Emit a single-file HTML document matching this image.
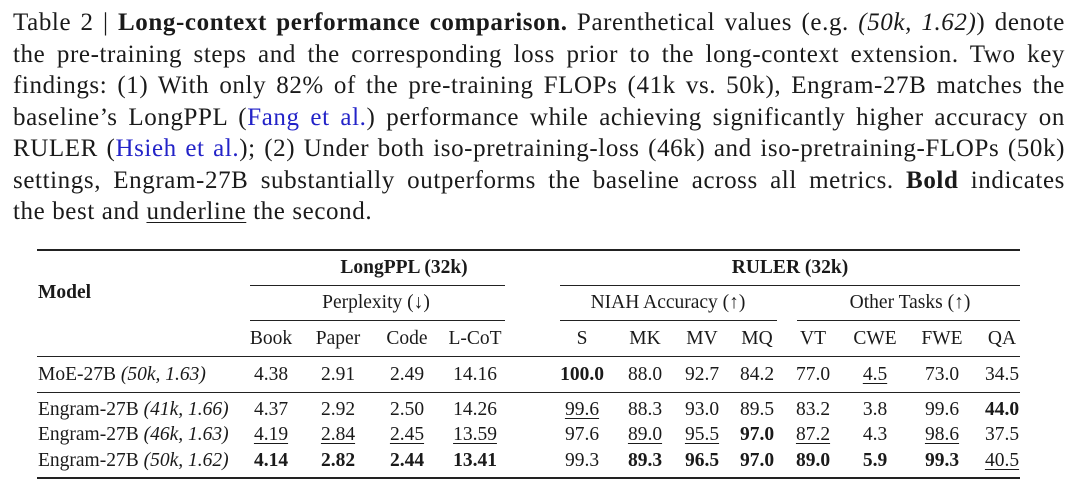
<!DOCTYPE html>
<html><head><meta charset="utf-8">
<style>
body{margin:0;background:#fff;width:1080px;height:494px;overflow:hidden;position:relative;font-family:"Liberation Serif",serif;color:#1a1a1a}
.cap{position:absolute;left:13px;width:1052px;font-size:25px;letter-spacing:0.6px}
.ln{height:31.5px;line-height:31.5px;text-align:justify;text-align-last:justify;white-space:nowrap}
.ln.last{text-align-last:left}
.lnk{color:#2323c8}
.rule{position:absolute;background:#222}
.t{position:absolute;font-size:19.5px;white-space:nowrap;line-height:22px}
.c{transform:translateX(-50%)}
.b{font-weight:bold}
.u{text-decoration:underline;text-underline-offset:3px;text-decoration-thickness:1px}
i{font-style:italic}
</style></head><body>
<div class="cap" style="top:7px">
<div class="ln">Table 2 | <b>Long-context performance comparison.</b> Parenthetical values (e.g. <i>(50k, 1.62)</i>) denote</div>
<div class="ln">the pre-training steps and the corresponding loss prior to the long-context extension. Two key</div>
<div class="ln">findings: (1) With only 82% of the pre-training FLOPs (41k vs. 50k), Engram-27B matches the</div>
<div class="ln">baseline’s LongPPL (<span class="lnk">Fang et al.</span>) performance while achieving significantly higher accuracy on</div>
<div class="ln">RULER (<span class="lnk">Hsieh et al.</span>); (2) Under both iso-pretraining-loss (46k) and iso-pretraining-FLOPs (50k)</div>
<div class="ln">settings, Engram-27B substantially outperforms the baseline across all metrics. <b>Bold</b> indicates</div>
<div class="ln last">the best and <span class="u">underline</span> the second.</div>
</div>
<div id="tbl"></div>
<script>
const cols=["Book","Paper","Code","L-CoT","S","MK","MV","MQ","VT","CWE","FWE","QA"];
const colX=[271,338,407,475,582,645,702,757,813,875,942,1002];
const models=["MoE-27B","Engram-27B","Engram-27B","Engram-27B"];
const cfgs=["(50k, 1.63)","(41k, 1.66)","(46k, 1.63)","(50k, 1.62)"];
const row0=["4.38","2.91","2.49","14.16","100.0","88.0","92.7","84.2","77.0","4.5","73.0","34.5"];
const row1=["4.37","2.92","2.50","14.26","99.6","88.3","93.0","89.5","83.2","3.8","99.6","44.0"];
const row2=["4.19","2.84","2.45","13.59","97.6","89.0","95.5","97.0","87.2","4.3","98.6","37.5"];
const row3=["4.14","2.82","2.44","13.41","99.3","89.3","96.5","97.0","89.0","5.9","99.3","40.5"];
const styles0="nnnnbnnnnunn", styles1="nnnnunnnnnnb", styles2="uuuunuubunun", styles3="bbbbnbbbbbbu";
const rows=[row0,row1,row2,row3], sty=[styles0,styles1,styles2,styles3];
const rowY=[364,399,424,450];
const T=document.getElementById('tbl');
function rule(x,y,w,h,name){const d=document.createElement('div');d.className='rule';
d.style.cssText=`left:${x}px;top:${y}px;width:${w}px;height:${h}px`;


T.appendChild(d);}
function txt(s,x,y,cls,name){const d=document.createElement('div');d.className='t '+cls;
d.style.left=x+'px';d.style.top=y+'px';d.innerHTML=s;


T.appendChild(d);}
rule(37,249,983,2,'top-rule');
rule(250,285,255,1,'longppl-rule');
rule(560,285,460,1,'ruler-rule');
rule(250,320,255,1,'perplexity-rule');
rule(560,320,217,1,'niah-rule');
rule(797,320,223,1,'other-rule');
rule(37,356,983,1,'header-rule');
rule(37,392,983,1,'baseline-rule');
rule(37,477,983,2,'bottom-rule');
txt('Model',38,282,'b','model-header');
txt('LongPPL (32k)',404,257,'b c','longppl-header');
txt('RULER (32k)',790,257,'b c','ruler-header');
txt('Perplexity (↓)',376,292,'c','perplexity-header');
txt('NIAH Accuracy (↑)',668,292,'c','niah-header');
txt('Other Tasks (↑)',910,292,'c','other-tasks-header');
cols.forEach((c,i)=>txt(c,colX[i],328,'c','col-'+c.toLowerCase()));
rows.forEach((r,ri)=>{
  txt(models[ri]+' <i>'+cfgs[ri]+'</i>',38,rowY[ri],'','row-label-'+ri);
  r.forEach((v,ci)=>{const s=sty[ri][ci];
    txt(v,colX[ci],rowY[ri],'c'+(s==='b'?' b':'')+(s==='u'?' u':''),'cell-'+ri+'-'+cols[ci].toLowerCase());});
});
</script>
</body></html>
